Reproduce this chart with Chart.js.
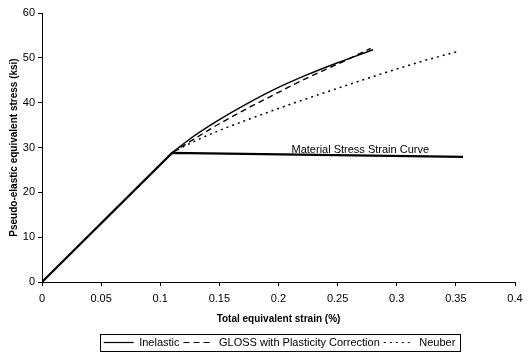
<!DOCTYPE html>
<html>
<head>
<meta charset="utf-8">
<script src="https://cdn.jsdelivr.net/npm/chart.js@4/dist/chart.umd.min.js"></script>
<style>
  html, body { margin: 0; padding: 0; background: #fff; }
  #wrap { width: 530px; height: 352px; }
</style>
</head>
<body>
<div id="wrap"><canvas id="chart"></canvas></div>
<script>
// ---- DATA ----
const materialX = [0, 0.11, 0.356];
const materialY = [0, 28.8, 27.9];

// the three estimates all follow the elastic line up to the kink
const inelasticX = [0.11, 0.125, 0.15, 0.175, 0.2, 0.225, 0.25, 0.28];
const inelasticY = [28.8, 31.9, 36.2, 40.0, 43.4, 46.3, 48.9, 51.8];

const glossX = [0.11, 0.125, 0.15, 0.175, 0.2, 0.225, 0.25, 0.278];
const glossY = [28.8, 31.3, 35.3, 38.9, 42.3, 45.6, 48.6, 52.1];

const neuberX = [0.11, 0.125, 0.15, 0.175, 0.2, 0.225, 0.25, 0.275, 0.3, 0.325, 0.353];
const neuberY = [28.8, 30.9, 33.8, 36.3, 38.7, 41.0, 43.2, 45.4, 47.5, 49.5, 51.5];

const xTicks = [0, 0.05, 0.1, 0.15, 0.2, 0.25, 0.3, 0.35, 0.4];
const yTicks = [0, 10, 20, 30, 40, 50, 60];

const FONT = "'Liberation Sans', Arial, sans-serif";

function pts(xs, ys) {
  return xs.map((x, i) => ({ x: x, y: ys[i] }));
}

// ---- PLUGINS ----
// label next to the material curve
const curveLabel = {
  id: 'curveLabel',
  afterDatasetsDraw(chart) {
    const { ctx, scales } = chart;
    ctx.save();
    ctx.font = '11px ' + FONT;
    ctx.fillStyle = '#000';
    ctx.textAlign = 'left';
    ctx.textBaseline = 'alphabetic';
    ctx.fillText('Material Stress Strain Curve', scales.x.getPixelForValue(0.211), scales.y.getPixelForValue(28.7));
    ctx.restore();
  }
};

// move the legend a bit (right and down) and frame it
// (hit boxes follow on their own: the legend plugin rebuilds them after the update)
const LEGEND_DX = 18;
const LEGEND_DY = 8;
const legendFrame = {
  id: 'legendFrame',
  afterLayout(chart) {
    const lg = chart.legend;
    if (!lg) return;
    lg.left += LEGEND_DX; lg.right += LEGEND_DX;
    lg.top += LEGEND_DY; lg.bottom += LEGEND_DY;
  },
  afterDraw(chart) {
    const boxes = chart.legend && chart.legend.legendHitBoxes;
    if (!boxes || !boxes.length) return;
    const left = Math.min(...boxes.map(b => b.left)) - 4;
    const right = Math.max(...boxes.map(b => b.left + b.width)) + 4;
    const top = Math.min(...boxes.map(b => b.top)) - 3;
    const bottom = Math.max(...boxes.map(b => b.top + b.height)) + 3;
    const ctx = chart.ctx;
    ctx.save();
    ctx.strokeStyle = '#000';
    ctx.lineWidth = 1;
    ctx.strokeRect(Math.round(left) + 0.5, Math.round(top) + 0.5, Math.round(right - left), Math.round(bottom - top));
    ctx.restore();
  }
};

// ---- CHART ----
new Chart(document.getElementById('chart'), {
  type: 'scatter',
  data: {
    datasets: [
      {
        label: 'Material',
        data: pts(materialX, materialY),
        showLine: true,
        borderColor: '#000',
        borderWidth: 2.2,
        pointRadius: 0,
        tension: 0
      },
      {
        label: 'Inelastic',
        data: pts(inelasticX, inelasticY),
        showLine: true,
        borderColor: '#000',
        borderWidth: 1.4,
        pointRadius: 0,
        cubicInterpolationMode: 'monotone',
        pointStyle: 'line'
      },
      {
        label: 'GLOSS with Plasticity Correction',
        data: pts(glossX, glossY),
        showLine: true,
        borderColor: '#000',
        borderWidth: 1.4,
        borderDash: [6, 4],
        pointRadius: 0,
        cubicInterpolationMode: 'monotone',
        pointStyle: 'line'
      },
      {
        label: 'Neuber',
        data: pts(neuberX, neuberY),
        showLine: true,
        borderColor: '#000',
        borderWidth: 1.5,
        borderDash: [2, 4],
        pointRadius: 0,
        cubicInterpolationMode: 'monotone',
        pointStyle: 'line'
      }
    ]
  },
  options: {
    responsive: true,
    maintainAspectRatio: false,
    animation: false,
    layout: { padding: { left: 8, right: 15, top: 13, bottom: 2 } },
    plugins: {
      tooltip: { enabled: false },
      legend: {
        position: 'bottom',
        labels: {
          filter: item => item.text !== 'Material',
          usePointStyle: true,
          pointStyleWidth: 30,
          boxHeight: 8,
          padding: 4,
          color: '#000',
          font: { family: FONT, size: 11 },
          generateLabels: chart => {
            const items = Chart.defaults.plugins.legend.labels.generateLabels(chart);
            items.forEach(it => {
              const ds = chart.data.datasets[it.datasetIndex];
              it.lineDash = ds.borderDash || [];
              it.lineWidth = 1.2;
            });
            return items;
          }
        }
      }
    },
    scales: {
      x: {
        type: 'linear',
        min: 0,
        max: 0.4,
        afterBuildTicks: s => { s.ticks = xTicks.map(v => ({ value: v })); },
        afterFit: s => { s.height = 43; },
        border: { color: '#000', width: 1 },
        grid: { drawOnChartArea: false, color: '#000', tickLength: 4 },
        ticks: {
          color: '#000',
          padding: 6,
          maxRotation: 0,
          font: { family: FONT, size: 11 },
          callback: v => String(Number(v.toFixed(2)))
        },
        title: {
          display: true,
          text: 'Total equivalent strain (%)',
          color: '#000',
          padding: { top: 0, bottom: 0 },
          font: { family: FONT, size: 10, weight: 'bold' }
        }
      },
      y: {
        type: 'linear',
        min: 0,
        max: 60,
        afterBuildTicks: s => { s.ticks = yTicks.map(v => ({ value: v })); },
        afterFit: s => { s.width = 34; },
        border: { color: '#000', width: 1 },
        grid: { drawOnChartArea: false, color: '#000', tickLength: 4 },
        ticks: {
          color: '#000',
          padding: 3,
          font: { family: FONT, size: 11 }
        },
        title: {
          display: true,
          text: 'Pseudo-elastic equivalent stress (ksi)',
          color: '#000',
          padding: 0,
          font: { family: FONT, size: 10, weight: 'bold' }
        }
      }
    }
  },
  plugins: [curveLabel, legendFrame]
});
</script>
</body>
</html>
